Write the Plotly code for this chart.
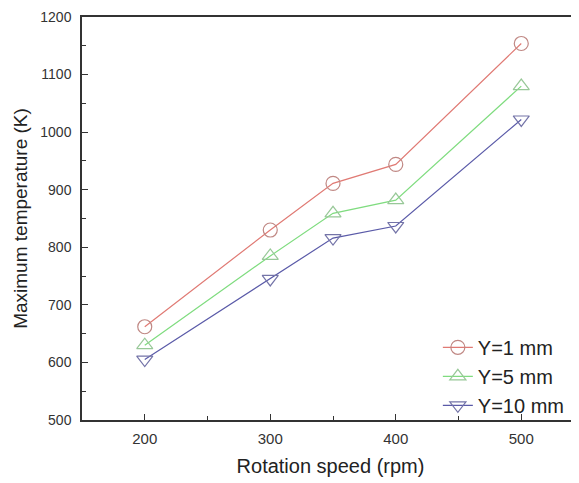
import plotly.graph_objects as go

speed = [200, 300, 350, 400, 500]
y1 = [662, 830, 911, 944, 1154]
y5 = [630, 785, 859, 882, 1080]
y10 = [605, 745, 816, 837, 1022]
names = ["Y=1 mm", "Y=5 mm", "Y=10 mm"]

series = [
    (y1, names[0], "#e07a74", "#c08884", "circle-open"),
    (y5, names[1], "#7fdc7f", "#98c898", "triangle-up-open"),
    (y10, names[2], "#5a5aa8", "#7474a8", "triangle-down-open"),
]

fig = go.Figure()
for ys, nm, lc, mc, sym in series:
    fig.add_trace(go.Scatter(
        x=speed, y=ys, name=nm, mode="lines+markers",
        line=dict(color=lc, width=1.2),
        marker=dict(symbol=sym, size=14, color=mc, line=dict(width=1.2, color=mc)),
    ))

font = "Liberation Sans, Arial, sans-serif"
fig.update_layout(
    width=571, height=475,
    margin=dict(l=74, r=0, t=9, b=63, autoexpand=False),
    paper_bgcolor="white", plot_bgcolor="white",
    font=dict(family=font, color="#222"),
    showlegend=True,
    legend=dict(x=0.716, xanchor="left", y=-0.012, yanchor="bottom",
                bgcolor="rgba(0,0,0,0)", font=dict(size=20, color="#222"),
                tracegroupgap=0),
)
fig.update_xaxes(
    range=[150, 546], showgrid=False, zeroline=False, automargin=False,
    showline=True, linecolor="#333", linewidth=1.5, mirror=True,
    ticks="inside", ticklen=6, tickcolor="#333", tickwidth=1.2,
    tickvals=[200, 300, 400, 500], tickfont=dict(size=15, color="#333"),
    ticklabelstandoff=4, ticklabeloverflow="allow",
    minor=dict(tickvals=[250, 350, 450], ticks="inside", ticklen=4, tickcolor="#333"),
    title=dict(text="Rotation speed (rpm)", font=dict(size=20, color="#222"), standoff=13),
)
fig.update_yaxes(
    range=[500, 1200], showgrid=False, zeroline=False, automargin=False,
    showline=True, linecolor="#333", linewidth=1.5,
    ticks="inside", ticklen=6, tickcolor="#333", tickwidth=1.2,
    tickvals=[500, 600, 700, 800, 900, 1000, 1100, 1200],
    tickfont=dict(size=14, color="#333"), ticklabelstandoff=6, ticklabeloverflow="allow",
    minor=dict(tickvals=[550, 650, 750, 850, 950, 1050, 1150], ticks="inside", ticklen=4, tickcolor="#333"),
    title=dict(text="Maximum temperature (K)", font=dict(size=19, color="#222"), standoff=8),
)
fig.write_html("out.html")
